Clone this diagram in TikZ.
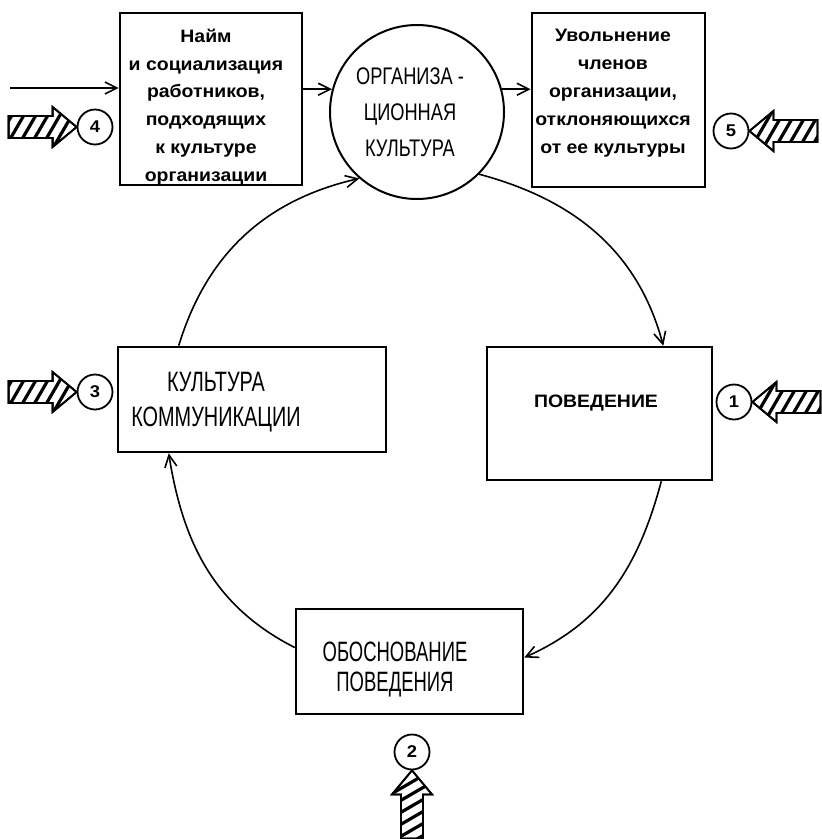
\documentclass[tikz,border=0pt]{standalone}
\usepackage{fontspec}
\setmainfont{Liberation Sans}
\newfontfamily\fcirc{Liberation Sans}[FakeStretch=0.76]
\newfontfamily\fkult{Liberation Sans}[FakeStretch=0.71]
\newfontfamily\fobos{Liberation Sans}[FakeStretch=0.66]
\newfontfamily\fbold{Liberation Sans Bold}[FakeStretch=1.08]
\usetikzlibrary{arrows.meta,calc}
\tikzset{
  box/.style={draw, line width=2.6pt, rectangle, inner sep=0pt},
  orgcirc/.style={draw, line width=2pt, circle, inner sep=0pt},
  numcirc/.style={draw, line width=1.8pt, circle, inner sep=0pt, minimum size=35pt,
     font=\fbold\fontsize{17}{17}\selectfont},
  lbl/.style={inner sep=0pt, align=center, anchor=north},
  arr/.style={line width=1.6pt, -{Straight Barb[length=12pt,width=12pt,line width=1.6pt]}},
  hatchedge/.style={draw, line width=1.8pt, fill=white, line join=miter},
}
\newcommand\hatcharrow[3]{%
  \begin{scope}[shift={(#1)}, rotate=#2]
    \path[hatchedge] (0,0) -- (-24,-20) -- (-24,-11) -- (-68,-11) -- (-68,11) -- (-24,11) -- (-24,20) -- cycle;
    \begin{scope}
      \clip (0,0) -- (-24,-20) -- (-24,-11) -- (-68,-11) -- (-68,11) -- (-24,11) -- (-24,20) -- cycle;
      \foreach \k in {-110,-98,...,10}
        \draw[line width=3.2pt] (\k,25*#3) -- (\k+29,-25*#3);
    \end{scope}
    \path[draw, line width=1.8pt, line join=miter] (0,0) -- (-24,-20) -- (-24,-11) -- (-68,-11) -- (-68,11) -- (-24,11) -- (-24,20) -- cycle;
  \end{scope}}
\begin{document}
\begin{tikzpicture}[x=1pt,y=-1pt]
\useasboundingbox[fill=white] (0,0) rectangle (822,839);

% boxes and circle
\node[box, minimum width=182pt, minimum height=172pt] (b4) at (211,99) {};
\node[box, minimum width=173pt, minimum height=174pt] (b5) at (618.5,100) {};
\node[orgcirc, minimum size=174pt] (circ) at (417,112) {};
\node[box, minimum width=225pt, minimum height=133pt] (bpov) at (599.5,413.5) {};
\node[box, minimum width=268pt, minimum height=105pt] (bkult) at (252,399.5) {};
\node[box, minimum width=227pt, minimum height=105pt] (bobos) at (409.5,661.5) {};

% texts
\node[lbl, font=\fbold\fontsize{18}{27.7}\selectfont] (t4) at (206,29)
  {Найм\\и социализация\\работников,\\подходящих\\к культуре\\организации};
\node[lbl, font=\fbold\fontsize{18}{28}\selectfont] (t5) at (613,29)
  {Увольнение\\членов\\организации,\\отклоняющихся\\от ее культуры};
\node[lbl, font=\fcirc\fontsize{24}{36}\selectfont] (tc) at (410,68)
  {ОРГАНИЗА -\\ЦИОННАЯ\\КУЛЬТУРА};
\node[lbl, font=\fbold\fontsize{18}{18}\selectfont] (tp) at (596,395) {ПОВЕДЕНИЕ};
\node[lbl, font=\fkult\fontsize{28}{35}\selectfont] (tk) at (216,372)
  {КУЛЬТУРА\\КОММУНИКАЦИИ};
\node[lbl, font=\fobos\fontsize{28}{30}\selectfont] (to) at (395,642)
  {ОБОСНОВАНИЕ\\ПОВЕДЕНИЯ};

% number circles
\node[numcirc] (c1) at (734,402) {1};
\node[numcirc] (c2) at (412,752) {2};
\node[numcirc] (c3) at (95,392) {3};
\node[numcirc] (c4) at (95,127) {4};
\node[numcirc] (c5) at (731,131) {5};

% hatched arrows
\hatcharrow{c4.west}{0}{1}
\hatcharrow{c3.west}{0}{1}
\hatcharrow{c5.east}{180}{1}
\hatcharrow{c1.east}{180}{1}
\hatcharrow{c2.south}{90}{-1}

% straight connectors
\coordinate (in4) at (10,88);
\draw[arr] (in4) -- (b4.west |- in4);
\draw[arr] (b4.east |- circ.165) -- (circ.165);
\draw[arr] (circ.15) -- (b5.west |- circ.15);

% cycle
\draw[arr] (circ.-45) to[out=-15,in=105] ([xshift=-50pt]bpov.north east);
\draw[arr] ([xshift=-52pt]bpov.south east) to[out=-105,in=24] ([yshift=4pt]bobos.east);
\draw[arr] ([yshift=14pt]bobos.west) to[out=153,in=-81] ([xshift=52pt]bkult.south west);
\draw[arr] ([xshift=62pt]bkult.north west) to[out=73,in=-167] (circ.-131);
\end{tikzpicture}
\end{document}
